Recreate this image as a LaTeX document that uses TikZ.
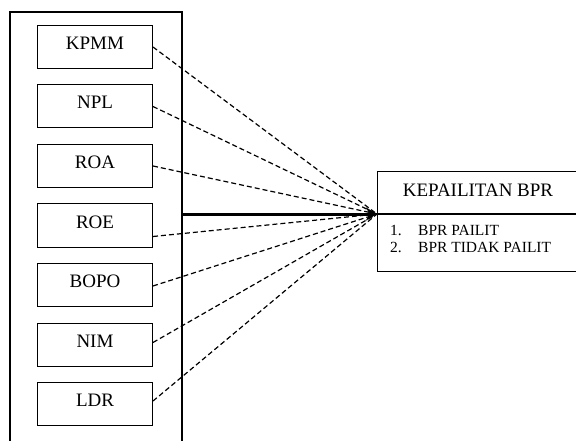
\documentclass[tikz,border=0pt]{standalone}
\usepackage{fontspec}
\setmainfont{Liberation Serif}
\usetikzlibrary{arrows.meta,calc}
\begin{document}
\begin{tikzpicture}[x=1pt,y=-1pt,
  varbox/.style={draw,line width=1pt,minimum width=115pt,minimum height=43pt,inner sep=0pt,
    anchor=north west,text height=12pt,text depth=7pt,font=\fontsize{19}{22}\selectfont},
  resbox/.style={draw,line width=1pt,minimum width=201pt,inner sep=0pt,anchor=north west},
  dashlink/.style={line width=1.2pt,dash pattern=on 5pt off 3pt},
  itemtext/.style={anchor=base west,inner sep=0pt,font=\fontsize{15.5}{18}\selectfont},
]
\useasboundingbox (0,0) rectangle (576,441);
\clip (0,0) rectangle (576,441);
\node[draw,line width=2pt,anchor=north west,minimum width=172pt,minimum height=460pt,inner sep=0pt] (frame) at (9,11) {};
\node[varbox] (kpmm) at (37,25) {KPMM};
\node[varbox] (npl)  at (37,84.5) {NPL};
\node[varbox] (roa)  at (37,144) {ROA};
\node[varbox] (roe)  at (37,203.5) {ROE};
\node[varbox] (bopo) at (37,263) {BOPO};
\node[varbox] (nim)  at (37,322.5) {NIM};
\node[varbox] (ldr)  at (37,382) {LDR};
\node[resbox,minimum height=42pt,text height=13pt,text depth=5pt,font=\fontsize{19}{22}\selectfont] (title) at (377,171) {KEPAILITAN BPR};
\node[resbox,minimum height=58pt] (list) at (377,213) {};
\draw[line width=2pt] (title.south west) -- (title.south east);
\node[itemtext] (item1) at (390,236) {\makebox[28pt][l]{1.}BPR PAILIT};
\node[itemtext] (item2) at (390,252.5) {\makebox[28pt][l]{2.}BPR TIDAK PAILIT};
\coordinate (tip) at (title.south west);
\draw[dashlink] (kpmm.east) -- (tip);
\draw[dashlink] (npl.east) -- (tip);
\draw[dashlink] (roa.east) -- (tip);
\draw[dashlink] ($(roe.east)+(0,11)$) -- (tip);
\draw[dashlink] ($(bopo.east)+(0,1)$) -- (tip);
\draw[dashlink] ($(nim.east)+(0,-2)$) -- (tip);
\draw[dashlink] ($(ldr.east)+(0,-3)$) -- (tip);
\draw[line width=3pt,-{Stealth[length=11pt,width=13pt]}] (frame.east |- tip) -- (tip);
\end{tikzpicture}
\end{document}
